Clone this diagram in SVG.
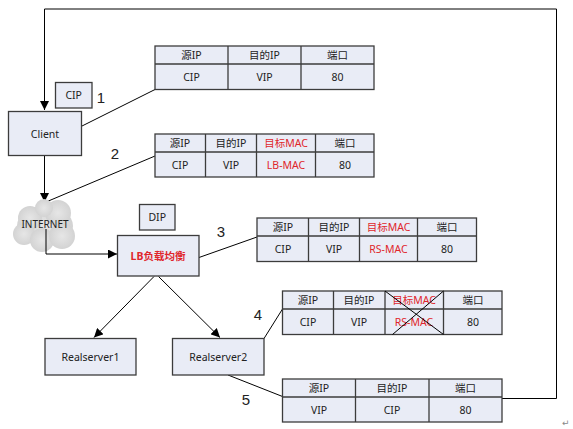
<svg xmlns="http://www.w3.org/2000/svg" width="573" height="429" viewBox="0 0 573 429">
<style>
.box{fill:#e9ecf6;stroke:#3c3c3c;stroke-width:1.3}
.tb{fill:#e9ecf6;stroke:#3c3c3c;stroke-width:1.3}
.gl{stroke:#3c3c3c;stroke-width:1.3;fill:none}
.ln{stroke:#000;stroke-width:1;fill:none}
.t{font-family:"Noto Sans","Noto Sans CJK SC",sans-serif;font-size:10.5px;fill:#222;text-anchor:middle;dominant-baseline:central}
.r{fill:#e0262b}
.n{font-family:"Liberation Sans","Noto Sans",sans-serif;font-size:15px;fill:#222;text-anchor:middle;dominant-baseline:central}
</style>
<defs>
<marker id="ah" viewBox="0 0 10 10" refX="10" refY="5" markerWidth="9" markerHeight="9" markerUnits="userSpaceOnUse" orient="auto">
<path d="M0,0 L10,5 L0,10 z" fill="#000"/>
</marker>
<radialGradient id="cg" cx="0.5" cy="0.5" r="0.6">
<stop offset="0" stop-color="#e6e6e6"/>
<stop offset="1" stop-color="#cfcfcf"/>
</radialGradient>
</defs>

<g id="connectors">
<polyline class="ln" points="502,398.5 556.5,398.5 556.5,9 44.5,9 44.5,110" marker-end="url(#ah)"/>
<line class="ln" x1="82" y1="126" x2="155" y2="89.5"/>
<line class="ln" x1="44.5" y1="156" x2="44.5" y2="202" marker-end="url(#ah)"/>
<line class="ln" x1="155" y1="156" x2="46" y2="202"/>
<line class="ln" x1="199" y1="257.5" x2="257" y2="237"/>
<line class="ln" x1="154" y1="276.5" x2="94" y2="337.5" marker-end="url(#ah)"/>
<line class="ln" x1="158.5" y1="276.5" x2="220" y2="337.5" marker-end="url(#ah)"/>
<line class="ln" x1="264" y1="338.5" x2="282.5" y2="309"/>
<line class="ln" x1="228" y1="375" x2="282.5" y2="396.5"/>
</g>

<g id="internet">
<g fill="url(#cg)">
<ellipse cx="45" cy="226" rx="28" ry="20"/>
<circle cx="30" cy="218" r="12"/>
<circle cx="58" cy="213" r="13"/>
<circle cx="24" cy="234" r="11"/>
<circle cx="42" cy="240" r="12"/>
<circle cx="62" cy="236" r="13"/>
<circle cx="44" cy="208" r="9"/>
</g>
<text class="t" x="45" y="224" style="font-size:10px">INTERNET</text>
<polyline class="ln" points="46,229 46,254 117,254" marker-end="url(#ah)"/>
</g>

<g id="client">
<rect class="box" x="8.5" y="111.5" width="73" height="44"/>
<text class="t" x="45" y="133.5">Client</text>
</g>
<g id="cip">
<rect class="box" x="55.5" y="82.5" width="36.5" height="25.5"/>
<text class="t" x="73.7" y="95">CIP</text>
</g>
<g id="dip">
<rect class="box" x="139.5" y="204.5" width="35.5" height="25.5"/>
<text class="t" x="157.2" y="217">DIP</text>
</g>
<g id="lb">
<rect class="box" x="117.5" y="235.5" width="81.5" height="40.5"/>
<text class="t r" x="158" y="256" style="font-weight:bold">LB负载均衡</text>
</g>
<g id="realserver1">
<rect class="box" x="45" y="338.5" width="91" height="36.5"/>
<text class="t" x="90.5" y="357">Realserver1</text>
</g>
<g id="realserver2">
<rect class="box" x="172.5" y="338.5" width="91.5" height="36.5"/>
<text class="t" x="218.2" y="357">Realserver2</text>
</g>

<g id="labels">
<text class="n" x="101" y="97">1</text>
<text class="n" x="115" y="153">2</text>
<text class="n" x="221" y="231">3</text>
<text class="n" x="258" y="314">4</text>
<text class="n" x="246" y="399">5</text>
</g>

<g id="table1">
<rect class="tb" x="155" y="46" width="219" height="43.5"/>
<path class="gl" d="M155,64 H374 M228,46 V89.5 M301,46 V89.5"/>
<text class="t" x="191.5" y="55">源IP</text>
<text class="t" x="264.5" y="55">目的IP</text>
<text class="t" x="337.5" y="55">端口</text>
<text class="t" x="191.5" y="77">CIP</text>
<text class="t" x="264.5" y="77">VIP</text>
<text class="t" x="337.5" y="77">80</text>
</g>

<g id="table2">
<rect class="tb" x="155" y="134" width="219" height="43"/>
<path class="gl" d="M155,152 H374 M205.5,134 V177 M256.5,134 V177 M315.5,134 V177"/>
<text class="t" x="180" y="143">源IP</text>
<text class="t" x="231" y="143">目的IP</text>
<text class="t r" x="286" y="143">目标MAC</text>
<text class="t" x="345" y="143">端口</text>
<text class="t" x="180" y="165">CIP</text>
<text class="t" x="231" y="165">VIP</text>
<text class="t r" x="286" y="165">LB-MAC</text>
<text class="t" x="345" y="165">80</text>
</g>

<g id="table3">
<rect class="tb" x="257" y="218" width="219.5" height="43.5"/>
<path class="gl" d="M257,236 H476.5 M308.5,218 V261.5 M359.5,218 V261.5 M417.5,218 V261.5"/>
<text class="t" x="283" y="227">源IP</text>
<text class="t" x="334" y="227">目的IP</text>
<text class="t r" x="388.5" y="227">目标MAC</text>
<text class="t" x="447" y="227">端口</text>
<text class="t" x="283" y="249">CIP</text>
<text class="t" x="334" y="249">VIP</text>
<text class="t r" x="388.5" y="249">RS-MAC</text>
<text class="t" x="447" y="249">80</text>
</g>

<g id="table4">
<rect class="tb" x="282.5" y="291" width="219.5" height="43.5"/>
<path class="gl" d="M282.5,309 H502 M333.5,291 V334.5 M385,291 V334.5 M443.5,291 V334.5"/>
<text class="t" x="308" y="300">源IP</text>
<text class="t" x="359" y="300">目的IP</text>
<text class="t r" x="414" y="300">目标MAC</text>
<text class="t" x="473" y="300">端口</text>
<text class="t" x="308" y="322">CIP</text>
<text class="t" x="359" y="322">VIP</text>
<text class="t r" x="414" y="322">RS-MAC</text>
<text class="t" x="473" y="322">80</text>
<path class="ln" d="M385,291 L443.5,334.5 M443.5,291 L392.5,334.5"/>
</g>

<g id="table5">
<rect class="tb" x="282.5" y="379" width="219.5" height="43"/>
<path class="gl" d="M282.5,397 H502 M355.5,379 V422 M429,379 V422"/>
<text class="t" x="319" y="388">源IP</text>
<text class="t" x="392" y="388">目的IP</text>
<text class="t" x="465.5" y="388">端口</text>
<text class="t" x="319" y="410">VIP</text>
<text class="t" x="392" y="410">CIP</text>
<text class="t" x="465.5" y="410">80</text>
</g>

<text x="562" y="426" style="font-family:'DejaVu Sans',sans-serif;font-size:9px;fill:#888">↵</text>
</svg>
